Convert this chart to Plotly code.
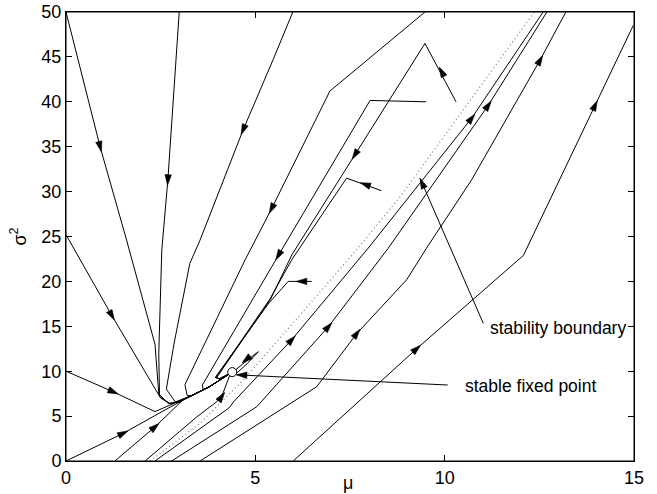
import math
import plotly.graph_objects as go

# ---------------- data ----------------
# trajectories converging from the upper left
t1_x = [0, 0.9, 1.6, 2.35, 2.45, 2.7, 3.0, 3.3, 3.8, 4.33]
t1_y = [50, 35, 24.6, 13.0, 7.5, 6.4, 6.6, 7.25, 8.3, 9.75]
t2_x = [2.99, 2.69, 2.53, 2.45, 2.47, 2.75, 3.3, 3.8, 4.33]
t2_y = [50, 31.3, 23.5, 12.0, 7.2, 6.35, 7.25, 8.3, 9.75]
t3_x = [5.99, 5.47, 4.68, 3.54, 3.27, 2.85, 2.65, 2.9, 3.3, 3.8, 4.33]
t3_y = [50, 44.7, 36.9, 24.6, 22.0, 13.0, 8.0, 6.5, 7.25, 8.3, 9.75]
t4_x = [9.48, 6.97, 5.43, 4.73, 3.14, 3.2, 3.3, 3.8, 4.33]
t4_y = [50, 41.2, 28.1, 22.4, 8.5, 7.3, 7.25, 8.3, 9.75]
t5_x = [9.51, 8.03, 5.61, 3.6, 3.62, 3.8, 4.33]
t5_y = [40.0, 40.15, 22.9, 8.45, 7.95, 8.3, 9.75]
t6_x = [10.3, 9.48, 7.63, 5.97, 5.4, 3.98, 4.05, 4.33]
t6_y = [40.0, 46.5, 34.1, 23.0, 18.0, 9.3, 9.15, 9.75]
t7_x = [8.33, 7.41, 5.96, 5.38, 3.96, 4.05, 4.33]
t7_y = [30.1, 31.5, 22.4, 18.0, 9.3, 9.15, 9.75]
t8_x = [6.49, 5.87, 5.36, 3.94, 4.05, 4.33]
t8_y = [20.0, 20.0, 17.6, 9.3, 9.15, 9.75]
t9_x = [4.5, 4.8, 5.08, 4.9, 4.45]
t9_y = [9.75, 10.9, 12.17, 11.6, 10.05]
# trajectories from the left edge / bottom, converging
b1_x = [0, 1.51, 2.75, 3.0, 3.3, 3.8, 4.33]
b1_y = [0, 3.08, 6.0, 6.6, 7.25, 8.3, 9.75]
b2_x = [1.29, 2.35, 3.1, 3.3, 3.8, 4.33]
b2_y = [0, 3.8, 6.85, 7.25, 8.3, 9.75]
b3_x = [2.09, 3.45, 3.98, 4.15, 4.33]
b3_y = [0, 4.9, 6.6, 7.6, 9.6]
b10_x = [0, 1.25, 2.35, 2.8, 3.3, 3.8, 4.33]
b10_y = [10.0, 7.7, 5.5, 6.3, 7.25, 8.3, 9.75]
b11_x = [0, 1.21, 2.5, 2.75, 3.0, 3.3, 3.8, 4.33]
b11_y = [25.2, 16.2, 7.0, 6.4, 6.6, 7.25, 8.3, 9.75]
# diverging trajectories (right of the stability boundary)
u1_x = [2.35, 3.01, 4.3, 4.45, 5.96, 7.98, 10.71, 12.6]
u1_y = [0, 1.97, 5.9, 6.7, 13.5, 23.7, 38.16, 50]
u2_x = [2.79, 5.04, 6.93, 8.51, 11.15, 12.7]
u2_y = [0, 6.05, 14.96, 23.7, 39.6, 50]
u3_x = [3.54, 6.62, 7.68, 9.0, 9.52, 10.71, 12.52, 13.2]
u3_y = [0, 8.27, 14.2, 20.2, 23.7, 31.3, 44.65, 50]
u4_x = [6.0, 7.76, 9.26, 12.08, 13.97, 14.98]
u4_y = [0, 6.8, 12.5, 22.9, 39.6, 48.5]

# stability boundary (dotted)
boundary_x = [2.22, 3.54, 4.68, 7.59, 8.82, 12.37]
boundary_y = [0, 4.2, 9.0, 23.1, 29.4, 50]

# stable fixed point
fixed_x = [4.39]
fixed_y = [9.9]

# arrowheads along trajectories
arrow_traj = ["t1", "t2", "t3", "t4", "t5", "t6", "t6", "t7", "t8", "t9",
              "b1", "b2", "b3", "b10", "b11",
              "u1", "u1", "u2", "u2", "u3", "u3", "u4", "u4"]
arrow_x = [0.9, 2.69, 4.68, 5.43, 5.61, 9.92, 7.63, 7.9, 6.22, 4.76,
           1.51, 2.35, 4.11, 1.25, 1.21,
           5.96, 10.71, 6.93, 11.15, 7.68, 12.52, 9.26, 13.97]
arrow_y = [35.0, 31.3, 36.9, 28.1, 22.9, 43.35, 34.1, 30.8, 20.0, 11.3,
           3.08, 3.8, 7.16, 7.7, 16.2,
           13.5, 38.16, 14.96, 39.6, 14.2, 44.65, 12.5, 39.6]

# labels and pointers
label_text = ["stability boundary", "stable fixed point"]
label_x = [11.14, 10.48]
label_y = [14.8, 8.35]
pointer_from_x = [11.02, 10.08]
pointer_from_y = [15.33, 8.46]
pointer_to_x = [9.35, 4.5]
pointer_to_y = [31.48, 9.6]

x_ticks = [0, 5, 10, 15]
y_ticks = [0, 5, 10, 15, 20, 25, 30, 35, 40, 45, 50]

# ---------------- figure ----------------
W, H = 657, 494
ML, MR, MT, MB = 66, 23, 12, 33
X_RANGE = (0, 15)
Y_RANGE = (0, 50)
KX = (W - ML - MR) / (X_RANGE[1] - X_RANGE[0])
KY = (H - MT - MB) / (Y_RANGE[1] - Y_RANGE[0])

TRAJS = {
    "t1": (t1_x, t1_y), "t2": (t2_x, t2_y), "t3": (t3_x, t3_y),
    "t4": (t4_x, t4_y), "t5": (t5_x, t5_y), "t6": (t6_x, t6_y),
    "t7": (t7_x, t7_y), "t8": (t8_x, t8_y), "t9": (t9_x, t9_y),
    "b1": (b1_x, b1_y), "b2": (b2_x, b2_y), "b3": (b3_x, b3_y),
    "b10": (b10_x, b10_y), "b11": (b11_x, b11_y),
    "u1": (u1_x, u1_y), "u2": (u2_x, u2_y), "u3": (u3_x, u3_y),
    "u4": (u4_x, u4_y),
}

FONT = "Liberation Sans, Arial, Helvetica, sans-serif"


def seg_dir(xs, ys, px, py):
    best = None
    qx, qy = px * KX, py * KY
    for i in range(len(xs) - 1):
        ax, ay = xs[i] * KX, ys[i] * KY
        bx, by = xs[i + 1] * KX, ys[i + 1] * KY
        dx, dy = bx - ax, by - ay
        l2 = dx * dx + dy * dy
        if l2 == 0:
            continue
        t = max(0.0, min(1.0, ((qx - ax) * dx + (qy - ay) * dy) / l2))
        d = math.hypot(qx - (ax + t * dx), qy - (ay + t * dy))
        if best is None or d < best[0] - 1e-9:
            best = (d, dx, dy)
    n = math.hypot(best[1], best[2])
    return best[1] / n, best[2] / n


def head(px, py, ux, uy, length=10.5, half=3.2, centered=True):
    # ux, uy: unit direction in pixel space (y up)
    if centered:
        tx, ty = px * KX + ux * length / 2, py * KY + uy * length / 2
    else:
        tx, ty = px * KX, py * KY
    bx, by = tx - ux * length, ty - uy * length
    nx, ny = -uy, ux
    pts = [(tx, ty), (bx + nx * half, by + ny * half), (bx - nx * half, by - ny * half), (tx, ty)]
    return [p[0] / KX for p in pts], [p[1] / KY for p in pts]


fig = go.Figure()

# stability boundary
fig.add_trace(go.Scatter(x=boundary_x, y=boundary_y, mode="lines",
                         line=dict(color="#7a7a7a", width=1.2, dash="1px,3px"),
                         hoverinfo="skip", showlegend=False))

# trajectories
for key, (xs, ys) in TRAJS.items():
    fig.add_trace(go.Scatter(x=xs, y=ys, mode="lines",
                             line=dict(color="black", width=1),
                             hoverinfo="skip", showlegend=False))

# pointer lines
for i in range(len(pointer_from_x)):
    fig.add_trace(go.Scatter(x=[pointer_from_x[i], pointer_to_x[i]],
                             y=[pointer_from_y[i], pointer_to_y[i]], mode="lines",
                             line=dict(color="black", width=1),
                             hoverinfo="skip", showlegend=False))

# arrowheads
hx, hy = [], []
for k, ax_, ay_ in zip(arrow_traj, arrow_x, arrow_y):
    xs, ys = TRAJS[k]
    ux, uy = seg_dir(xs, ys, ax_, ay_)
    px, py = head(ax_, ay_, ux, uy)
    hx += px + [None]
    hy += py + [None]
for i in range(len(pointer_from_x)):
    ux, uy = seg_dir([pointer_from_x[i], pointer_to_x[i]], [pointer_from_y[i], pointer_to_y[i]],
                     pointer_to_x[i], pointer_to_y[i])
    px, py = head(pointer_to_x[i], pointer_to_y[i], ux, uy, centered=False)
    hx += px + [None]
    hy += py + [None]
fig.add_trace(go.Scatter(x=hx, y=hy, mode="lines", fill="toself",
                         fillcolor="black", line=dict(color="black", width=0.6),
                         hoverinfo="skip", showlegend=False))

# fixed point
fig.add_trace(go.Scatter(x=fixed_x, y=fixed_y, mode="markers",
                         marker=dict(symbol="circle", size=9, color="white",
                                     line=dict(color="black", width=1)),
                         hoverinfo="skip", showlegend=False))

PLOT_H = H - MT - MB
PLOT_W = W - ML - MR
annotations = []
for t, x, y in zip(label_text, label_x, label_y):
    annotations.append(dict(x=x, y=y, xref="x", yref="y", text=t, showarrow=False,
                            xanchor="left", yanchor="middle",
                            font=dict(family=FONT, size=17.5, color="black")))
annotations.append(dict(x=7.45, y=-22 / PLOT_H, xref="x", yref="paper",
                        text="μ", showarrow=False, xanchor="center", yanchor="middle",
                        font=dict(family=FONT, size=18, color="black")))
annotations.append(dict(x=-47 / PLOT_W, y=25, xref="paper", yref="y",
                        text="σ<sup>2</sup>", showarrow=False, textangle=-90,
                        xanchor="center", yanchor="middle",
                        font=dict(family=FONT, size=18, color="black")))

axis_common = dict(showgrid=False, zeroline=False, showline=True, linecolor="black",
                   linewidth=1, mirror="ticks", ticks="inside", ticklen=6,
                   tickcolor="black", tickwidth=1, ticklabeloverflow="allow",
                   automargin=False,
                   tickfont=dict(family=FONT, size=18, color="black"))

fig.update_layout(
    template="none",
    width=W, height=H,
    margin=dict(l=ML, r=MR, t=MT, b=MB, pad=0, autoexpand=False),
    paper_bgcolor="white", plot_bgcolor="white",
    xaxis=dict(range=list(X_RANGE), tickmode="array", tickvals=x_ticks,
               ticktext=[str(v) for v in x_ticks], **axis_common),
    yaxis=dict(range=list(Y_RANGE), tickmode="array", tickvals=y_ticks,
               ticktext=[str(v) for v in y_ticks], **axis_common),
    shapes=[dict(type="rect", xref="paper", yref="paper", x0=0, x1=1, y0=0, y1=1,
                 line=dict(color="black", width=1), fillcolor="rgba(0,0,0,0)", layer="above")],
    annotations=annotations,
    showlegend=False,
)

# remove the default page margin so the figure sits at the window's corner
fig.write_html("out.html",
               config={"displayModeBar": False, "staticPlot": True},
               post_script="document.body.style.margin='0';document.body.style.padding='0';")
